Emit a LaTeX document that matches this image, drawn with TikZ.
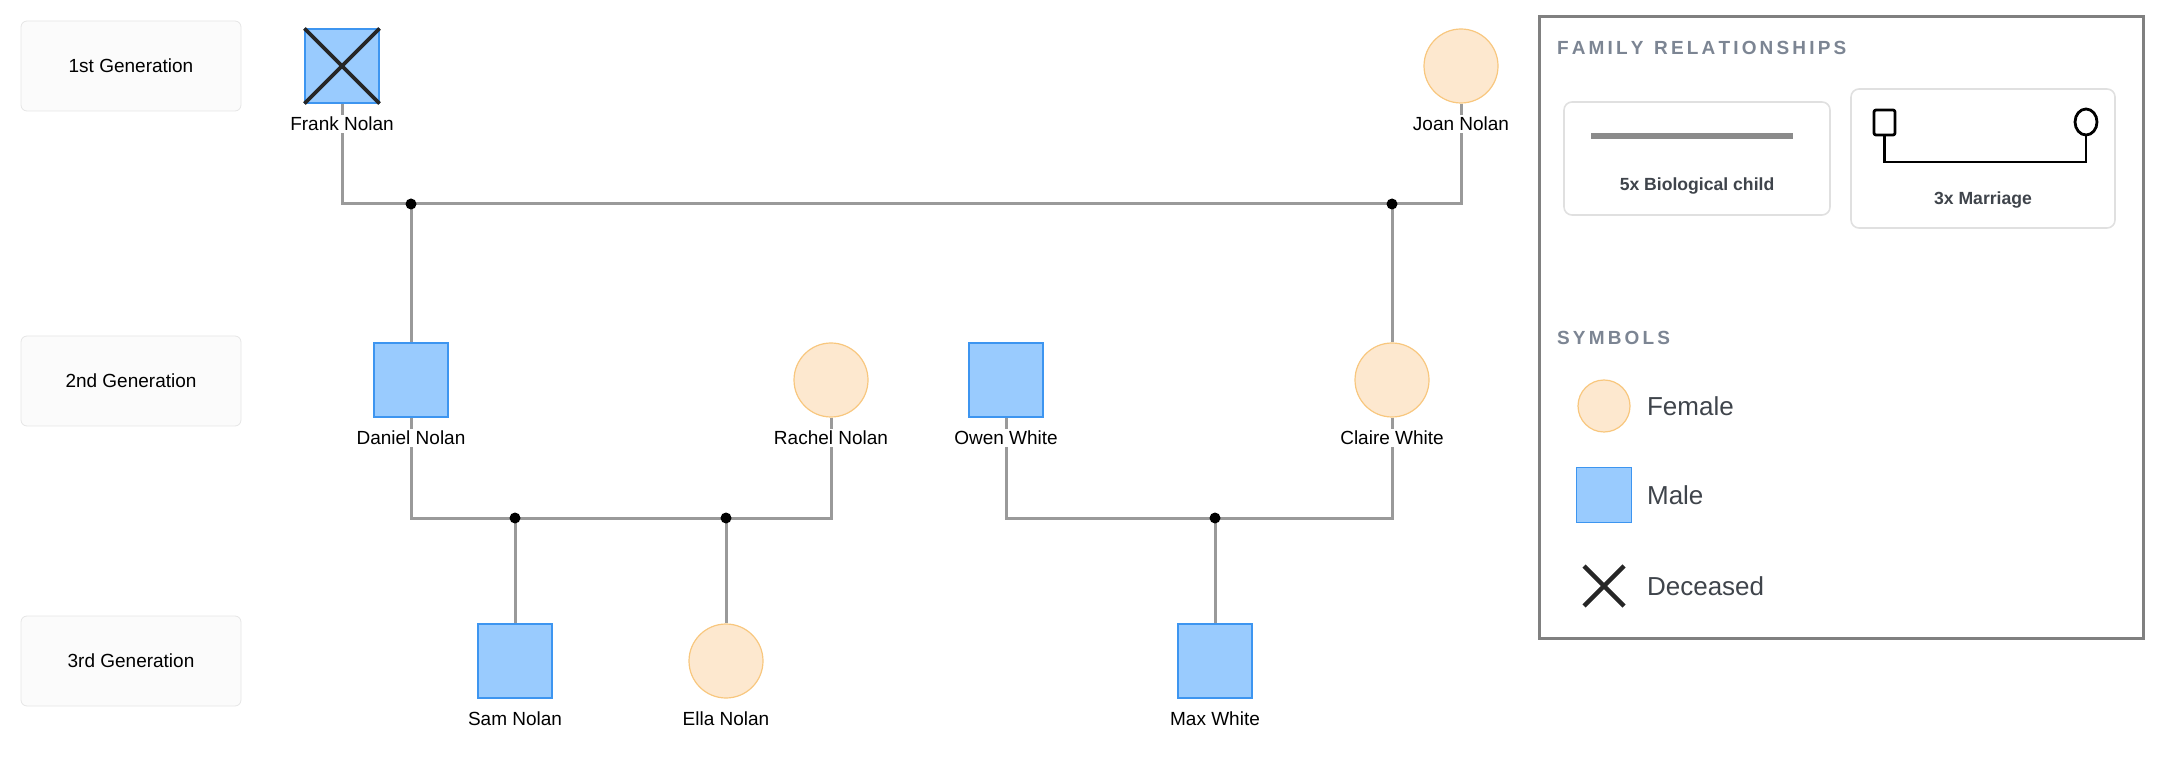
\documentclass[tikz,border=0pt]{standalone}
\usepackage{fontspec}
\setmainfont{Liberation Sans}
\begin{document}
\definecolor{mfill}{HTML}{99CBFE}
\definecolor{mdraw}{HTML}{3D95F0}
\definecolor{ffill}{HTML}{FDE8CF}
\definecolor{fdraw}{HTML}{F8C77E}
\definecolor{ln}{HTML}{9A9A9A}
\definecolor{ttl}{HTML}{7C8593}
\definecolor{txt}{HTML}{3F444B}
\begin{tikzpicture}[x=0.5pt,y=-0.5pt,
  male/.style={draw=mdraw,fill=mfill,line width=0.6pt,minimum size=37pt,inner sep=0pt},
  female/.style={circle,draw=fdraw,fill=ffill,line width=0.6pt,minimum size=37pt,inner sep=0pt},
  lbl/.style={font=\fontsize{9.5}{11}\selectfont,inner sep=1pt},
  gen/.style={draw=black!10,fill=black!1.5,rounded corners=3pt,minimum width=110pt,minimum height=45pt,font=\fontsize{9.5}{11}\selectfont},
  rel/.style={draw=ln,line width=1.5pt},
  dot/.style={circle,fill=black,inner sep=0pt,minimum size=5.5pt},
  card/.style={draw=black!12,rounded corners=4pt,line width=0.8pt}]
\useasboundingbox (0,0) rectangle (2161,758);
% generations
\node[gen] (g1) at (131,66) {1st Generation};
\node[gen] (g2) at (131,381) {2nd Generation};
\node[gen] (g3) at (131,661) {3rd Generation};
% people
\node[male] (frank) at (342,66) {};
\draw[line width=1.8pt,draw=black!85] (frank.north west)--(frank.south east) (frank.north east)--(frank.south west);
\node[female] (joan) at (1461,66) {};
\node[male] (daniel) at (411,380) {};
\node[female] (rachel) at (831,380) {};
\node[male] (owen) at (1006,380) {};
\node[female] (claire) at (1392,380) {};
\node[male] (sam) at (515,661) {};
\node[female] (ella) at (726,661) {};
\node[male] (max) at (1215,661) {};
% marriage points
\coordinate (m1l) at (342,204); \coordinate (m1r) at (1461,204);
\coordinate (m2l) at (411,518); \coordinate (m2r) at (831,518);
\coordinate (m3l) at (1006,518); \coordinate (m3r) at (1392,518);
\coordinate (c1) at (411,204);
\coordinate (c2) at (1392,204);
\coordinate (c3) at (515,518);
\coordinate (c4) at (726,518);
\coordinate (c5) at (1215,518);
% lines
\draw[rel] (frank.south) -- (m1l) -- (m1r) -- (joan.south);
\draw[rel] (daniel.south) -- (m2l) -- (m2r) -- (rachel.south);
\draw[rel] (owen.south) -- (m3l) -- (m3r) -- (claire.south);
\draw[rel] (c1) -- (daniel.north);
\draw[rel] (c2) -- (claire.north);
\draw[rel] (c3) -- (sam.north);
\draw[rel] (c4) -- (ella.north);
\draw[rel] (c5) -- (max.north);
\foreach \c in {c1,c2,c3,c4,c5} \node[dot] at (\c) {};
% labels
\foreach \n/\t in {frank/Frank Nolan,joan/Joan Nolan,daniel/Daniel Nolan,rachel/Rachel Nolan,owen/Owen White,claire/Claire White,sam/Sam Nolan,ella/Ella Nolan,max/Max White}
  \node[lbl,fill=white] at ([yshift=-29pt]\n.center) {\t};
% legend
\draw[draw=black!50,line width=1.5pt] (1539,17) rectangle (2143,638);
\node[anchor=west,text=ttl,font=\bfseries\fontsize{9.5}{11}\selectfont] (lt1) at (1550,48) {F\,A\,M\,I\,L\,Y\ \ R\,E\,L\,A\,T\,I\,O\,N\,S\,H\,I\,P\,S};
\draw[card] (1564,102) rectangle (1830,215);
\draw[draw=ln!90!black,line width=3pt] (1591,136) -- (1793,136);
\node[text=txt,font=\bfseries\fontsize{8.8}{10}\selectfont] (bc) at (1697,186) {5x Biological child};
\draw[card] (1851,89) rectangle (2115,228);
\draw[line width=1.4pt,line join=round,rounded corners=1pt] (1874,110) rectangle (1895,135);
\draw[line width=1.4pt] (2086,122) circle [x radius=5.5pt,y radius=6.5pt];
\draw[line width=1.4pt] (1884.5,135) -- (1884.5,162) -- (2086,162) -- (2086,135);
\node[text=txt,font=\bfseries\fontsize{8.8}{10}\selectfont] (mr) at (1983,200) {3x Marriage};
\node[anchor=west,text=ttl,font=\bfseries\fontsize{9.5}{11}\selectfont] (lt2) at (1550,338) {S\,Y\,M\,B\,O\,L\,S};
\node[female,minimum size=26pt] (lf) at (1604,406) {};
\node[anchor=west,text=txt,font=\fontsize{13}{15}\selectfont] at (1640,406) {Female};
\node[male,minimum size=27.5pt] (lm) at (1604,495) {};
\node[anchor=west,text=txt,font=\fontsize{13}{15}\selectfont] at (1640,495) {Male};
\coordinate (x1) at (1584,566); \coordinate (x2) at (1624,606);
\draw[line width=2.2pt,draw=black!85] (x1) -- (x2) (1624,566) -- (1584,606);
\node[anchor=west,text=txt,font=\fontsize{13}{15}\selectfont] at (1640,586) {Deceased};
\end{tikzpicture}
\end{document}
